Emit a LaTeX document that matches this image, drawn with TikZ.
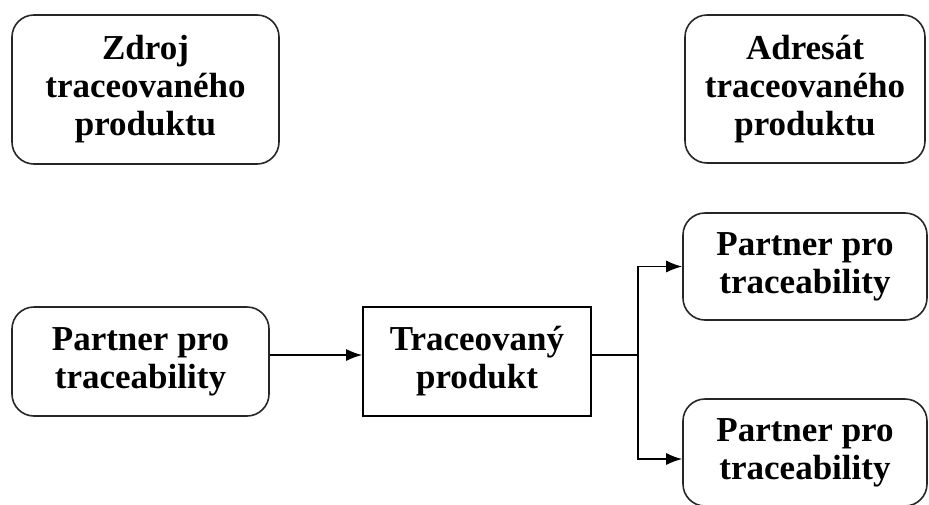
\documentclass[tikz,border=0pt]{standalone}
\usepackage{fontspec}
\setmainfont{Liberation Serif}
\usetikzlibrary{arrows.meta}
\begin{document}
\begin{tikzpicture}[x=1pt,y=-1pt,
  box/.style={draw=black!85, line width=1.6pt, align=center, inner sep=0pt,
    font=\bfseries\fontsize{35}{38}\selectfont},
  rbox/.style={box, rounded corners=22pt},
  sbox/.style={box, draw=black},
  flow/.style={line width=1.6pt, -{Latex[length=16pt,width=12pt]}},
  wire/.style={line width=1.6pt}]
  \useasboundingbox (0,0) rectangle (929,504);

  % header boxes
  \node[rbox, minimum width=267pt, minimum height=149pt] (src) at (145.5,89.5)
    {Zdroj\\traceovaného\\produktu};
  \node[rbox, minimum width=240pt, minimum height=148pt] (dst) at (805,89)
    {Adresát\\traceovaného\\produktu};

  % flow boxes
  \node[rbox, minimum width=257pt, minimum height=109pt] (pin) at (140.5,361.5)
    {Partner pro\\traceability};
  \node[sbox, minimum width=228pt, minimum height=109pt] (prod) at (477,361.5)
    {Traceovaný\\produkt};
  \node[rbox, minimum width=244pt, minimum height=107pt] (pout1) at (805,266.5)
    {Partner pro\\traceability};
  \node[rbox, minimum width=244pt, minimum height=107pt] (pout2) at (805,452.5)
    {Partner pro\\traceability};

  % connectors
  \draw[flow] ([yshift=6.5pt]pin.east) -- ([yshift=6.5pt]prod.west);
  \coordinate (split) at ([xshift=46pt,yshift=6.5pt]prod.east);
  \draw[wire] ([yshift=6.5pt]prod.east) -- (split);
  \draw[flow] (split) |- (pout1.west);
  \draw[flow] (split) |- ([yshift=-6.5pt]pout2.west);
\end{tikzpicture}
\end{document}
